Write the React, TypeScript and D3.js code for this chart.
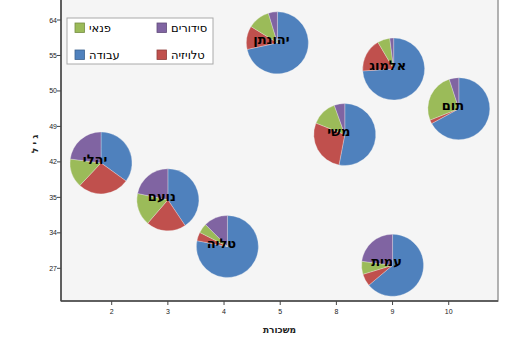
import React from "react";
import * as d3 from "d3";

const xTicks = [2, 3, 4, 5, 8, 9, 10];
const yTicks = [27, 34, 35, 42, 49, 50, 55, 64];

const names = ["יהלי", "נועם", "טליה", "יהונתן", "משי", "אלמוג", "תום", "עמית"];
const salary = [1.81, 3.0, 4.06, 4.95, 8.15, 9.02, 10.18, 9.0];
const age = [41.8, 34.93, 31.3, 58.2, 47.4, 53.1, 49.5, 27.6];

const work = [35, 40.6, 78, 71.6, 53, 74, 67, 64];
const tv = [27, 20.7, 4.5, 12.2, 28, 17.5, 2, 6.4];
const leisure = [15, 17, 5, 11.5, 13.5, 6.5, 26, 6.8];
const chores = [23, 21.7, 12.5, 4.7, 5.5, 2, 5, 23];

const categories = ["עבודה", "טלויזיה", "פנאי", "סידורים"];
const colors = ["#4F81BD", "#C0504D", "#9BBB59", "#8064A2"];
const legendOrder = [2, 3, 0, 1]; // פנאי, סידורים, עבודה, טלויזיה

const xTitle = "משכורת";
const yTitle = "ג י ל";

export default function App() {
  const W = 530, H = 340;
  const left = 61, right = 498, top = -13, bottom = 301;
  const x = d3.scaleLinear().domain(xTicks).range(xTicks.map((_, i) => 111.7 + i * 56.17));
  const y = d3.scaleLinear().domain(yTicks).range(yTicks.map((_, i) => 268.3 - i * 35.47));
  const pie = d3.pie<number>().sort(null).value((d) => d);
  const arc = d3.arc<d3.PieArcDatum<number>>().innerRadius(0).outerRadius(31);

  return (
    <svg width={W} height={H} style={{ position: "absolute", left: 0, top: 0, background: "#fff" }}>
      <rect x={left} y={top} width={right - left} height={bottom - top} fill="#f5f5f5" stroke="#999" strokeWidth={1.5} />
      <line x1={left} y1={top} x2={left} y2={bottom} stroke="#444" strokeWidth={1.5} />
      <line x1={left} y1={bottom} x2={right} y2={bottom} stroke="#444" strokeWidth={1.5} />
      {xTicks.map((t) => (
        <g key={"x" + t}>
          <line x1={x(t)} x2={x(t)} y1={bottom} y2={bottom + 4} stroke="#444" />
          <text x={x(t)} y={314} fontSize={7} textAnchor="middle" fontFamily="Liberation Sans" fill="#222">{t}</text>
        </g>
      ))}
      {yTicks.map((t) => (
        <g key={"y" + t}>
          <line x1={left - 4} x2={left} y1={y(t)} y2={y(t)} stroke="#444" />
          <text x={left - 4} y={y(t) + 2.5} fontSize={7} textAnchor="end" fontFamily="Liberation Sans" fill="#222">{t}</text>
        </g>
      ))}
      <text x={(left + right) / 2} y={333} fontSize={9} fontWeight="bold" textAnchor="middle" fontFamily="DejaVu Sans" fill="#222">{xTitle}</text>
      <text transform={`translate(38,144) rotate(-90)`} fontSize={9} fontWeight="bold" textAnchor="middle" fontFamily="DejaVu Sans" fill="#222">{yTitle}</text>
      {names.map((n, i) => {
        const vals = [work[i], tv[i], leisure[i], chores[i]];
        const cx = x(salary[i]), cy = y(age[i]);
        return (
          <g key={n} transform={`translate(${cx},${cy})`}>
            {pie(vals).map((s, j) => (
              <path key={j} d={arc(s) || ""} fill={colors[j]} stroke="#f5f5f5" strokeWidth={0.3} />
            ))}
            <text x={-6} y={1} fontSize={13} fontWeight="bold" textAnchor="middle" fontFamily="DejaVu Sans" fill="#000">{n}</text>
          </g>
        );
      })}
      <g>
        <rect x={67} y={18} width={146} height={46} fill="#fff" stroke="#aaa" />
        {legendOrder.map((ci, k) => {
          const col = k % 2, row = Math.floor(k / 2);
          const sx = col === 0 ? 75 : 157;
          const sy = row === 0 ? 23 : 50;
          return (
            <g key={ci}>
              <rect x={sx} y={sy} width={9.5} height={9.5} fill={colors[ci]} stroke={d3.color(colors[ci])!.darker(0.8).toString()} strokeWidth={0.8} />
              <text x={sx + 14} y={sy + 9} fontSize={11.5} textAnchor="start" fontFamily="DejaVu Sans" fill="#000">{categories[ci]}</text>
            </g>
          );
        })}
      </g>
    </svg>
  );
}
